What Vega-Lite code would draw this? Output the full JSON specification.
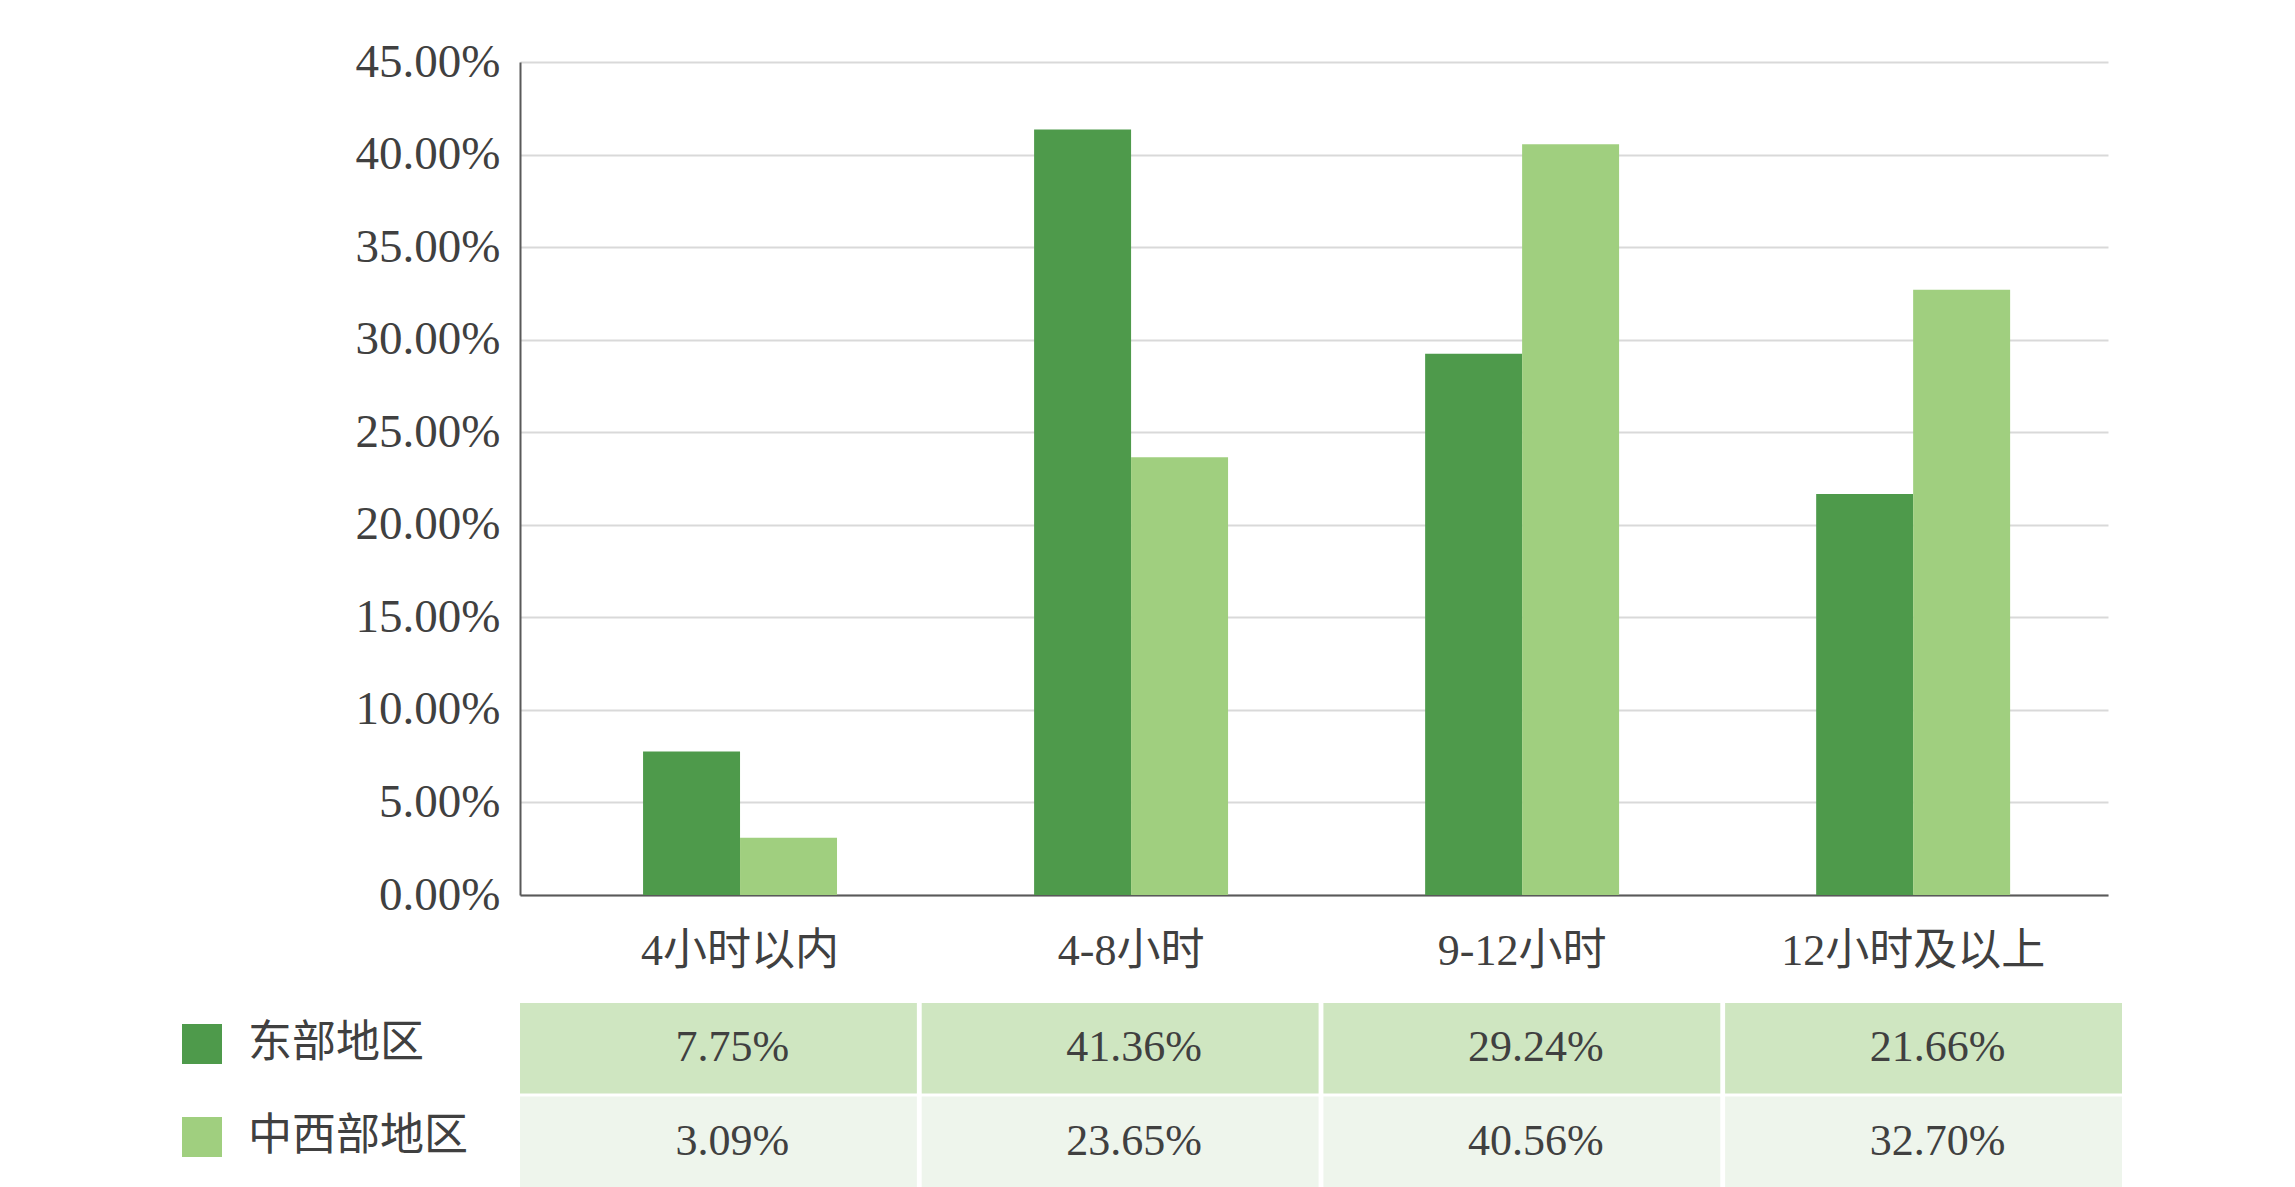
{
  "$schema": "https://vega.github.io/schema/vega-lite/v6.json",
  "background": "#ffffff",
  "padding": {"left": 180, "top": 38, "right": 0, "bottom": 0},
  "config": {
    "font": "Liberation Serif, Noto Sans CJK SC",
    "view": {"stroke": null},
    "axis": {"labelFont": "Liberation Serif, Noto Sans CJK SC", "labelColor": "#404040"},
    "legend": {"labelFont": "Noto Sans CJK SC", "labelColor": "#404040"}
  },
  "datasets": {
    "d": [
      {"cat": "4小时以内", "region": "东部地区", "value": 0.0775},
      {"cat": "4小时以内", "region": "中西部地区", "value": 0.0309},
      {"cat": "4-8小时", "region": "东部地区", "value": 0.4136},
      {"cat": "4-8小时", "region": "中西部地区", "value": 0.2365},
      {"cat": "9-12小时", "region": "东部地区", "value": 0.2924},
      {"cat": "9-12小时", "region": "中西部地区", "value": 0.4056},
      {"cat": "12小时及以上", "region": "东部地区", "value": 0.2166},
      {"cat": "12小时及以上", "region": "中西部地区", "value": 0.327}
    ]
  },
  "vconcat": [
    {
      "width": 1588,
      "height": 833,
      "data": {"name": "d"},
      "mark": {"type": "bar"},
      "encoding": {
        "x": {
          "field": "cat", "type": "nominal",
          "sort": ["4小时以内", "4-8小时", "9-12小时", "12小时及以上"],
          "scale": {"paddingInner": 0.504, "paddingOuter": 0.2825, "align": 0.557},
          "axis": {
            "title": null, "labelAngle": 0, "labelFontSize": 44, "labelPadding": 34, "labelLimit": 0,
            "ticks": false, "domain": true, "domainColor": "#595959", "domainWidth": 2,
            "grid": false
          }
        },
        "xOffset": {
          "field": "region", "type": "nominal",
          "sort": ["东部地区", "中西部地区"],
          "scale": {"paddingInner": 0, "paddingOuter": 0}
        },
        "y": {
          "field": "value", "type": "quantitative",
          "scale": {"domain": [0, 0.45], "nice": false},
          "axis": {
            "title": null, "format": ".2%", "values": [0, 0.05, 0.1, 0.15, 0.2, 0.25, 0.3, 0.35, 0.4, 0.45],
            "labelFontSize": 47, "labelPadding": 20, "ticks": false,
            "domain": true, "domainColor": "#595959", "domainWidth": 2,
            "grid": true, "gridColor": "#d9d9d9", "gridWidth": 2
          }
        },
        "color": {
          "field": "region", "type": "nominal",
          "sort": ["东部地区", "中西部地区"],
          "scale": {"domain": ["东部地区", "中西部地区"], "range": ["#4e9a4b", "#a0cf7f"]},
          "legend": {
            "title": null, "orient": "none", "legendX": -340, "legendY": 960,
            "symbolType": "square", "symbolSize": 1600, "symbolStrokeWidth": 0, "symbolOpacity": 1,
            "labelFontSize": 44, "labelOffset": 24, "labelLimit": 0, "rowPadding": 49, "padding": 0
          }
        }
      }
    },
    {
      "width": 1602,
      "height": 184,
      "data": {"name": "d"},
      "encoding": {
        "x": {
          "field": "cat", "type": "nominal",
          "sort": ["4小时以内", "4-8小时", "9-12小时", "12小时及以上"],
          "scale": {"paddingInner": 0.012, "paddingOuter": 0},
          "axis": null
        },
        "y": {
          "field": "region", "type": "nominal",
          "sort": ["东部地区", "中西部地区"],
          "scale": {"paddingInner": 0.03, "paddingOuter": 0},
          "axis": null
        }
      },
      "layer": [
        {
          "mark": {"type": "rect"},
          "encoding": {
            "color": {
              "field": "region", "type": "nominal",
              "scale": {"domain": ["东部地区", "中西部地区"], "range": ["#cfe6c1", "#eef5ec"]},
              "legend": null
            }
          }
        },
        {
          "mark": {"type": "text", "fontSize": 44, "color": "#404040", "dx": 14, "font": "Liberation Serif"},
          "encoding": {
            "text": {"field": "value", "type": "quantitative", "format": ".2%"}
          }
        }
      ]
    }
  ],
  "spacing": 108,
  "bounds": "flush",
  "resolve": {"scale": {"color": "independent"}, "legend": {"color": "independent"}}
}
